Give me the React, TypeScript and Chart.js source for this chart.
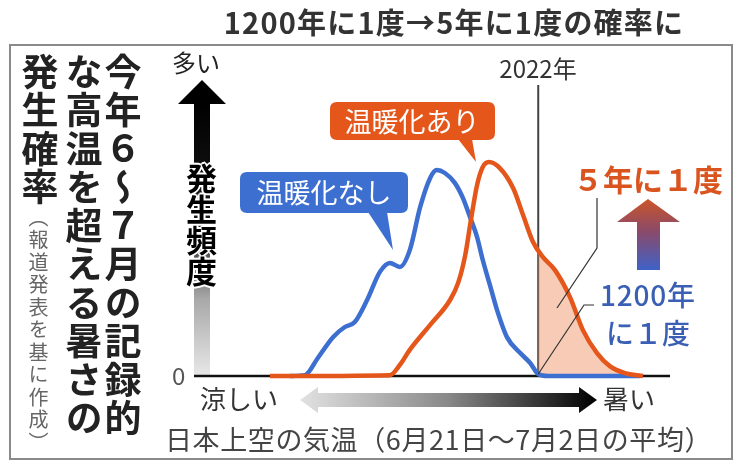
import React, { useEffect, useRef } from "react";
import { Chart, registerables } from "chart.js";

Chart.register(...registerables);

// Relative temperature position (0 = coolest edge, 100 = hottest edge) and occurrence frequency
const noWarmingTemp = [19.8, 23.0, 25.7, 28.9, 31.4, 33.5, 36.1, 38.8, 40.9, 43.0, 45.1, 47.3, 49.4, 50.8, 52.5, 54.6, 56.3, 57.8, 59.3, 60.5, 62.0, 63.5, 65.6, 68.4, 70.5, 72.2, 74.3, 93.7];
const noWarmingFreq = [0, 0.3, 6.2, 13.4, 16.9, 18.6, 26.2, 35.9, 39.0, 37.6, 43.4, 58.3, 68.3, 71.0, 70.0, 66.6, 61.4, 54.8, 47.9, 40.0, 31.4, 22.8, 13.4, 7.9, 4.5, 0.7, 0, 0];
const warmingTemp = [15.6, 40.9, 43.0, 45.1, 49.4, 53.6, 55.3, 56.8, 58.0, 59.3, 60.5, 61.8, 64.1, 66.9, 69.0, 71.1, 73.2, 75.7, 78.9, 81.6, 84.6, 87.3, 90.5, 94.3];
const warmingFreq = [0, 0.3, 3.8, 9.0, 17.6, 26.2, 32.1, 41.7, 53.8, 65.9, 72.1, 73.8, 71.7, 64.8, 55.5, 46.2, 41.0, 36.6, 27.2, 15.9, 7.9, 3.4, 1.0, 0];
// The 2022 record temperature and the "warming" frequency there
const year2022Temp = 72.2;
const warmingFreqAt2022 = 43.4;

const BLUE = "#3d6fd1";
const ORANGE = "#e5561b";
const FONT = '"Noto Sans CJK JP", "Noto Sans", sans-serif';

const toPoints = (xs: number[], ys: number[]) => xs.map((x, i) => ({ x, y: ys[i] }));

function gradientArrow(
  ctx: CanvasRenderingContext2D,
  pts: [number, number][],
  grad: CanvasGradient | string
) {
  ctx.beginPath();
  ctx.moveTo(pts[0][0], pts[0][1]);
  for (let i = 1; i < pts.length; i++) ctx.lineTo(pts[i][0], pts[i][1]);
  ctx.closePath();
  ctx.fillStyle = grad;
  ctx.fill();
}

function roundRect(ctx: CanvasRenderingContext2D, x: number, y: number, w: number, h: number, r: number) {
  ctx.beginPath();
  ctx.moveTo(x + r, y);
  ctx.lineTo(x + w - r, y);
  ctx.quadraticCurveTo(x + w, y, x + w, y + r);
  ctx.lineTo(x + w, y + h - r);
  ctx.quadraticCurveTo(x + w, y + h, x + w - r, y + h);
  ctx.lineTo(x + r, y + h);
  ctx.quadraticCurveTo(x, y + h, x, y + h - r);
  ctx.lineTo(x, y + r);
  ctx.quadraticCurveTo(x, y, x + r, y);
  ctx.closePath();
}

const decorations = {
  id: "decorations",
  beforeDatasetsDraw(chart: any) {
    const { ctx, scales } = chart;
    const y0 = scales.y.getPixelForValue(0);
    const x22 = scales.x.getPixelForValue(year2022Temp);
    ctx.save();
    // outer frame
    ctx.strokeStyle = "#8a8a8a";
    ctx.lineWidth = 2;
    ctx.strokeRect(10, 45, 722, 414);
    // vertical frequency arrow
    const g = ctx.createLinearGradient(0, 100, 0, y0);
    g.addColorStop(0, "#000");
    g.addColorStop(0.45, "#1a1a1a");
    g.addColorStop(0.72, "#a8a8a8");
    g.addColorStop(1, "#e8e8e8");
    gradientArrow(ctx, [[194, 104], [178, 104], [202, 80], [226, 104], [210, 104], [210, y0], [194, y0]], g);
    // 2022 line
    ctx.strokeStyle = "#444";
    ctx.lineWidth = 2;
    ctx.beginPath();
    ctx.moveTo(x22, 85);
    ctx.lineTo(x22, y0);
    ctx.stroke();
    // baseline
    ctx.strokeStyle = "#111";
    ctx.lineWidth = 2.5;
    ctx.beginPath();
    ctx.moveTo(194, y0);
    ctx.lineTo(670, y0);
    ctx.stroke();
    // temperature arrow
    const h = ctx.createLinearGradient(300, 0, 597, 0);
    h.addColorStop(0, "#e2e2e2");
    h.addColorStop(0.5, "#888");
    h.addColorStop(1, "#000");
    gradientArrow(ctx, [[300, 400], [318, 387], [318, 393], [579, 393], [579, 387], [597, 400], [579, 413], [579, 407], [318, 407], [318, 413]], h);
    ctx.restore();
  },
  afterDatasetsDraw(chart: any) {
    const { ctx, scales } = chart;
    const y0 = scales.y.getPixelForValue(0);
    const x22 = scales.x.getPixelForValue(year2022Temp);
    ctx.save();
    // callouts
    ctx.fillStyle = ORANGE;
    roundRect(ctx, 330, 102, 165, 38, 7);
    ctx.fill();
    ctx.beginPath();
    ctx.moveTo(458, 139);
    ctx.lineTo(472, 139);
    ctx.lineTo(476, 162);
    ctx.closePath();
    ctx.fill();
    ctx.fillStyle = BLUE;
    roundRect(ctx, 240, 172, 168, 41, 7);
    ctx.fill();
    ctx.beginPath();
    ctx.moveTo(368, 212);
    ctx.lineTo(387, 212);
    ctx.lineTo(393, 250);
    ctx.closePath();
    ctx.fill();
    // orange-to-blue arrow
    const v = ctx.createLinearGradient(0, 200, 0, 270);
    v.addColorStop(0, "#c9552a");
    v.addColorStop(0.45, "#8a4a6a");
    v.addColorStop(1, "#3f62c8");
    gradientArrow(ctx, [[637, 222], [617, 222], [648, 199], [680, 222], [660, 222], [660, 270], [637, 270]], v);
    // leader lines
    ctx.strokeStyle = "#333";
    ctx.lineWidth = 1.2;
    ctx.beginPath();
    ctx.moveTo(597, 198);
    ctx.lineTo(597, 248);
    ctx.lineTo(557, 308);
    ctx.stroke();
    ctx.beginPath();
    ctx.moveTo(594, 305);
    ctx.lineTo(584, 305);
    ctx.lineTo(x22, y0 - 2);
    ctx.stroke();
    ctx.restore();
  },
};

type LabelProps = {
  text: string;
  x: number;
  y: number;
  size: number;
  color?: string;
  weight?: number;
  align?: "left" | "center";
  vertical?: boolean;
  style?: React.CSSProperties;
};

function Label({ text, x, y, size, color = "#222", weight = 400, align = "left", vertical = false, style }: LabelProps) {
  const base: React.CSSProperties = {
    position: "absolute",
    left: x,
    top: y,
    fontFamily: FONT,
    fontSize: size,
    fontWeight: weight,
    color,
    lineHeight: 1,
    whiteSpace: "nowrap",
  };
  if (align === "center") base.transform = "translateX(-50%)";
  if (vertical) {
    base.writingMode = "vertical-rl";
    base.textOrientation = "mixed";
  }
  return <div style={{ ...base, ...style }}>{text}</div>;
}

const outline = "1px 1px 0 #fff, -1px -1px 0 #fff, 1px -1px 0 #fff, -1px 1px 0 #fff, 0 2px 0 #fff, 0 -2px 0 #fff, 2px 0 0 #fff, -2px 0 0 #fff";

export default function App() {
  const canvasRef = useRef<HTMLCanvasElement | null>(null);

  useEffect(() => {
    const canvas = canvasRef.current;
    if (!canvas) return;
    const shadeTemp = [year2022Temp, ...warmingTemp.filter((t) => t > year2022Temp)];
    const shadeFreq = [warmingFreqAt2022, ...warmingFreq.filter((_, i) => warmingTemp[i] > year2022Temp)];
    const chart = new Chart(canvas, {
      type: "line",
      data: {
        datasets: [
          {
            label: "温暖化あり",
            data: toPoints(warmingTemp, warmingFreq),
            borderColor: ORANGE,
            borderWidth: 4.5,
            pointRadius: 0,
            cubicInterpolationMode: "monotone",
            fill: false,
            order: 0,
            clip: false,
          },
          {
            label: "温暖化なし",
            data: toPoints(noWarmingTemp, noWarmingFreq),
            borderColor: BLUE,
            borderWidth: 4.5,
            pointRadius: 0,
            cubicInterpolationMode: "monotone",
            fill: false,
            order: 1,
            clip: false,
          },
          {
            label: "2022年以上",
            data: toPoints(shadeTemp, shadeFreq),
            borderWidth: 0,
            borderColor: "rgba(0,0,0,0)",
            backgroundColor: "rgba(240,160,120,0.55)",
            pointRadius: 0,
            cubicInterpolationMode: "monotone",
            fill: "origin",
            order: 2,
          },
        ],
      },
      options: {
        responsive: false,
        animation: false,
        layout: { padding: { left: 196, right: 70, top: 86, bottom: 86 } },
        plugins: { legend: { display: false }, tooltip: { enabled: false } },
        scales: {
          x: { type: "linear", min: 0, max: 100, display: false },
          y: { min: 0, max: 100, display: false },
        },
      },
      plugins: [decorations],
    });
    return () => chart.destroy();
  }, []);

  return (
    <div style={{ position: "fixed", left: 0, top: 0, width: 740, height: 462, background: "#fff", overflow: "hidden" }}>
      <canvas ref={canvasRef} width={740} height={462} style={{ position: "absolute", left: 0, top: 0, width: 740, height: 462 }} />
      <Label text="1200年に1度→5年に1度の確率に" x={454} y={7} size={29} weight={700} color="#333" align="center" style={{ letterSpacing: 1.2 }} />
      <Label text="今年６〜７月の記録的" x={104} y={53} size={37} weight={700} vertical style={{ letterSpacing: 1.5 }} />
      <Label text="な高温を超える暑さの" x={65} y={53} size={37} weight={700} vertical style={{ letterSpacing: 1.5 }} />
      <Label text="発生確率" x={21} y={53} size={37} weight={700} vertical style={{ letterSpacing: 1.5 }} />
      <Label text="（報道発表を基に作成）" x={28} y={207} size={20} color="#666" vertical style={{ letterSpacing: 2.5 }} />
      <Label text="多い" x={172} y={50} size={24} />
      <Label text="発生頻度" x={186} y={163} size={31} weight={700} color="#000" vertical style={{ textShadow: outline }} />
      <Label text="0" x={172} y={363} size={24} color="#555" />
      <Label text="2022年" x={538} y={56} size={24} color="#333" align="center" />
      <Label text="温暖化あり" x={412} y={107} size={27} color="#fff" align="center" />
      <Label text="温暖化なし" x={324} y={178} size={27} color="#fff" align="center" />
      <Label text="５年に１度" x={648} y={163} size={30} weight={700} color="#d9541e" align="center" />
      <Label text="1200年" x={648} y={280} size={28} weight={500} color="#3a5fb5" align="center" style={{ letterSpacing: 0.8 }} />
      <Label text="に１度" x={648} y={318} size={28} weight={500} color="#3a5fb5" align="center" />
      <Label text="涼しい" x={200} y={385} size={26} color="#333" />
      <Label text="暑い" x={603} y={385} size={26} color="#333" />
      <Label text="日本上空の気温（6月21日～7月2日の平均）" x={165} y={425} size={27} color="#444" style={{ letterSpacing: 0.6 }} />
    </div>
  );
}
